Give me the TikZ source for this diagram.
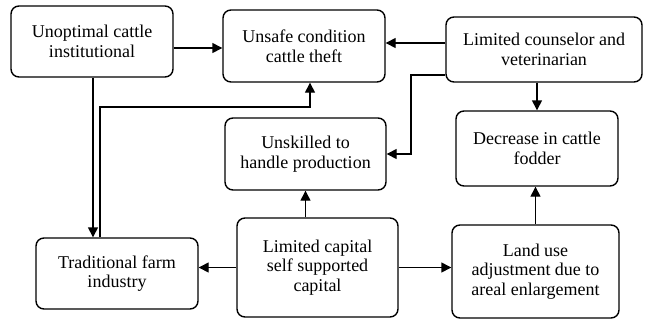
\documentclass[tikz,border=0pt]{standalone}
\usepackage{fontspec}
\setmainfont{Liberation Serif}
\usetikzlibrary{arrows.meta,calc}
\tikzset{
  box/.style={draw, line width=1.4pt, rounded corners=8pt, align=center, inner sep=2pt,
    font=\fontsize{18}{19.5}\selectfont},
  arr/.style={line width=1.4pt, -{Triangle[length=10pt,width=10pt]}},
  ln/.style={line width=1.4pt}
}
\begin{document}
\begin{tikzpicture}[x=1pt,y=-1pt]
\useasboundingbox (0,0) rectangle (646,322);
\node[box, minimum width=162pt, minimum height=71pt] (A) at (92,41.5) {Unoptimal cattle\\institutional};
\node[box, minimum width=162pt, minimum height=72pt] (B) at (304,46) {Unsafe condition\\cattle theft};
\node[box, minimum width=196pt, minimum height=65pt] (C) at (544,49.5) {Limited counselor and\\veterinarian};
\node[box, minimum width=161pt, minimum height=72pt] (D) at (305.5,154) {Unskilled to\\handle production};
\node[box, minimum width=162pt, minimum height=75pt] (E) at (537,148.5) {Decrease in cattle\\fodder};
\node[box, minimum width=162pt, minimum height=71pt] (F) at (117,273.5) {Traditional farm\\industry};
\node[box, minimum width=161pt, minimum height=99pt] (G) at (317.5,267.5) {Limited capital\\self supported\\capital};
\node[box, minimum width=167pt, minimum height=93pt] (H) at (535.5,271.5) {Land use\\adjustment due to\\areal enlargement};
\coordinate (ab) at (0,48);
\coordinate (cb) at (0,43);
\coordinate (af) at (93,0);
\coordinate (fb1) at (100,107);
\coordinate (fb2) at (310,107);
\coordinate (cd0) at (0,75);
\coordinate (cd1) at (411,75);
\coordinate (cd2) at (411,154);
\draw[arr] (A.east |- ab) -- (B.west |- ab);
\draw[arr] (C.west |- cb) -- (B.east |- cb);
\draw[arr] (C.west |- cd0) -- (cd1) -- (cd2) -- (D.east |- cd2);
\draw[arr] (C.south -| E.north) -- (E.north);
\draw[arr] (A.south -| af) -- (F.north -| af);
\draw[arr] (F.north -| fb1) -- (fb1) -- (fb2) -- (B.south -| fb2);
\draw[arr] (G.north -| D.south) -- (D.south);
\draw[arr] (G.west) -- (G.west -| F.east);
\draw[arr] (G.east) -- (G.east -| H.west);
\draw[arr] (H.north) -- (H.north |- E.south);
\end{tikzpicture}
\end{document}
